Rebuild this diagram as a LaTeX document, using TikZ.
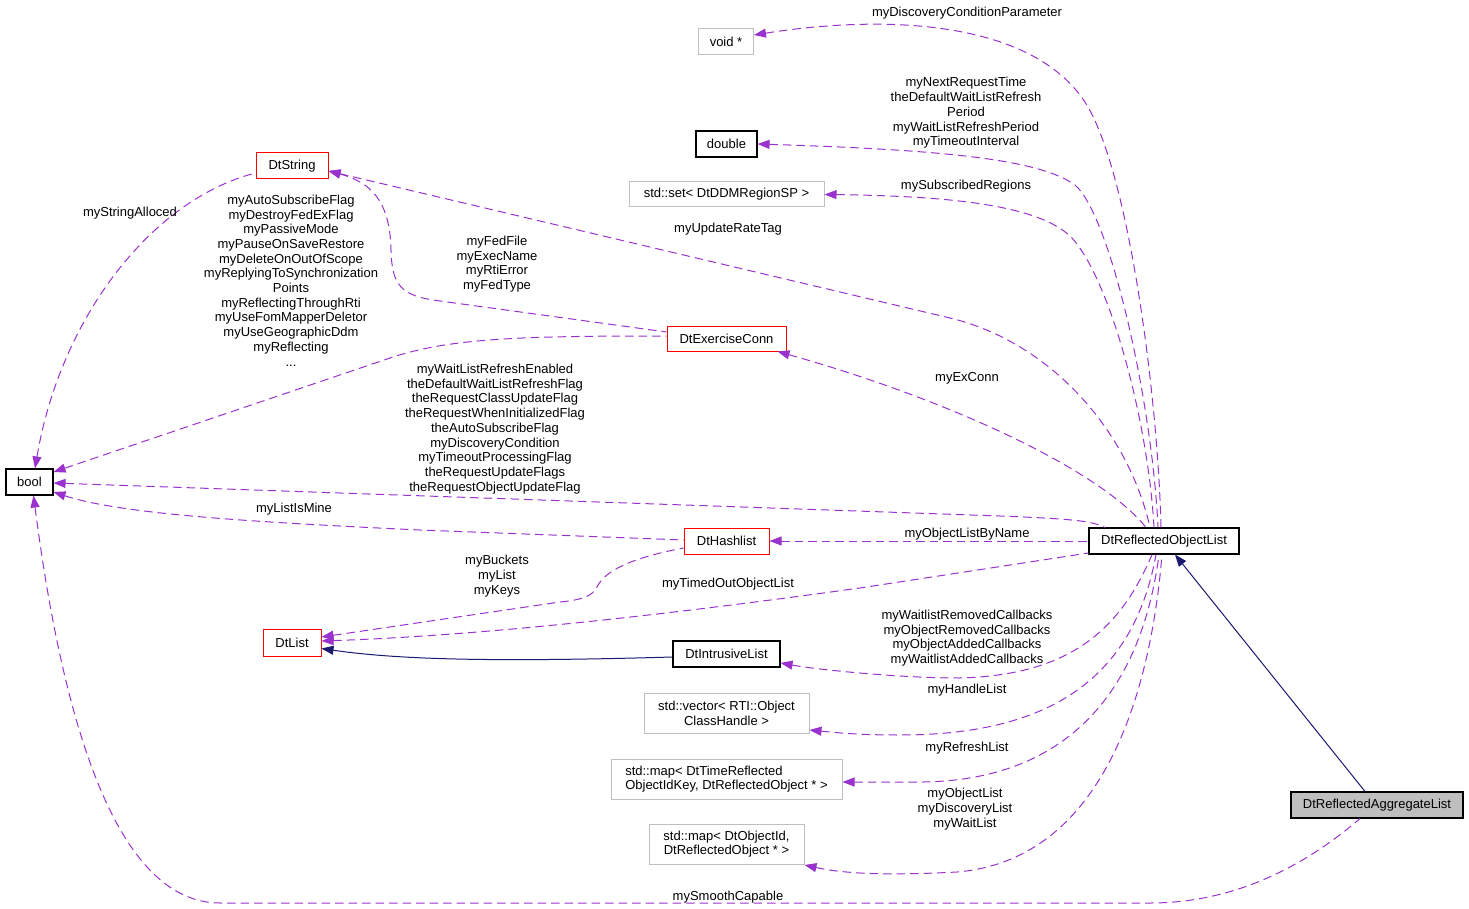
\documentclass[tikz,border=0pt]{standalone}
\usepackage{fontspec}
\setmainfont{Liberation Sans}
\usetikzlibrary{arrows.meta}
\definecolor{memc}{HTML}{9A32CD}
\definecolor{inhc}{HTML}{191970}
\definecolor{grayb}{HTML}{BFBFBF}
\begin{document}
\begin{tikzpicture}[x=1pt,y=-1pt,
  every node/.style={font=\fontsize{13}{14.7}\selectfont, inner sep=0pt, align=center},
  cls/.style={draw=black, line width=1.1pt, minimum height=26pt},
  redc/.style={draw=red, line width=1pt, minimum height=26pt},
  grc/.style={draw=grayb, line width=1pt, minimum height=26pt},
  mem/.style={draw=memc, line width=1pt, dash pattern=on 8.5pt off 5pt, arrows={Triangle[length=12pt,width=9pt,fill=memc]-}},
  inh/.style={draw=inhc, line width=1pt, arrows={Triangle[length=12pt,width=9pt,fill=inhc]-}},
  lbl/.style={yshift=-2pt}]
\useasboundingbox (0,0) rectangle (1469,909);
% nodes
\node[grc, minimum width=55pt] (voidp) at (726,42) {void *};
\node[cls, minimum width=61pt] (dbl) at (726.5,144) {double};
\node[grc, minimum width=195pt, minimum height=25pt] (stdset) at (726.5,194.5) {std::set< DtDDMRegionSP >};
\node[redc, minimum width=72pt] (dtstring) at (292,166) {DtString};
\node[redc, minimum width=119pt, minimum height=25pt] (exconn) at (726.5,338.5) {DtExerciseConn};
\node[cls, minimum width=47pt] (bool) at (29.5,482) {bool};
\node[redc, minimum width=85pt] (hashlist) at (726.5,541) {DtHashlist};
\node[cls, minimum width=150pt] (rol) at (1164,541) {DtReflectedObjectList};
\node[redc, minimum width=58pt, minimum height=27pt] (dtlist) at (292,642.5) {DtList};
\node[cls, minimum width=107pt] (intrusive) at (726.5,654) {DtIntrusiveList};
\node[grc, minimum width=165pt, minimum height=40pt] (vector) at (726.5,713) {std::vector< RTI::Object\\ClassHandle >};
\node[grc, minimum width=231pt, minimum height=40pt, align=left] (map1) at (726.5,779) {std::map< DtTimeReflected\\ObjectIdKey, DtReflectedObject * >};
\node[grc, minimum width=155pt, minimum height=40pt] (map2) at (726.5,844) {std::map< DtObjectId,\\DtReflectedObject * >};
\node[cls, fill=grayb, minimum width=172pt] (ral) at (1377,805) {DtReflectedAggregateList};
% edges
\draw[mem] ([yshift=7pt]voidp.east) .. controls (900,12) and (1040,25) .. (1088,107) .. controls (1130,180) and (1158,400) .. ([xshift=-3pt]rol.north);
\draw[mem] (dbl.east) .. controls (950,150) and (1040,160) .. (1075,185) .. controls (1110,215) and (1152,400) .. ([xshift=-6pt]rol.north);
\draw[mem] (stdset.east) .. controls (950,196) and (1040,205) .. (1072,238) .. controls (1110,280) and (1148,420) .. ([xshift=-10pt]rol.north);
\draw[mem] ([yshift=-5pt]dtstring.east) -- (950,318) .. controls (1050,342) and (1128,430) .. ([xshift=-14pt]rol.north);
\draw[mem] ([xshift=-9pt]exconn.south east) .. controls (950,400) and (1100,470) .. ([xshift=-18pt]rol.north);
\draw[mem] ([yshift=-5pt]dtstring.east) .. controls (370,182) and (390,200) .. (391,250) .. controls (392,285) and (400,296) .. (440,301) -- ([yshift=6.5pt]exconn.west);
\draw[mem] ([yshift=10pt]bool.east) -- (390,358) .. controls (450,338) and (520,336) .. ([yshift=2.5pt]exconn.west);
\draw[mem] ([xshift=5.5pt]bool.north) .. controls (60,320) and (150,200) .. ([yshift=-7pt]dtstring.west);
\draw[mem] ([yshift=-1pt]bool.east) -- (1000,516) .. controls (1075,519) and (1092,521) .. ([xshift=-59pt]rol.north);
\draw[mem] ([yshift=-10pt]bool.east) .. controls (120,514) and (250,522) .. (420,530) -- ([yshift=1pt]hashlist.west);
\draw[mem] (hashlist.east) -- (rol.west);
\draw[mem] ([yshift=5.5pt]dtlist.east) -- (560,602) .. controls (580,600) and (592,597) .. (597,587) .. controls (603,575) and (620,560) .. ([yshift=-7pt]hashlist.west);
\draw[mem] ([yshift=1.5pt]dtlist.east) .. controls (500,635) and (700,610) .. (860,588) -- ([yshift=-12pt]rol.west);
\draw[inh] ([yshift=-6pt]dtlist.east) .. controls (400,660) and (500,662) .. ([yshift=-3pt]intrusive.west);
\draw[mem] ([yshift=-9pt]intrusive.east) .. controls (820,670) and (900,678) .. (960,678) .. controls (1070,675) and (1120,630) .. ([xshift=-12pt]rol.south);
\draw[mem] ([yshift=-17pt]vector.east) .. controls (840,733) and (860,735) .. (900,735) .. controls (1060,735) and (1135,670) .. ([xshift=-8pt]rol.south);
\draw[mem] ([yshift=-3pt]map1.east) -- (923,782) .. controls (1060,780) and (1140,700) .. ([xshift=-5pt]rol.south);
\draw[mem] ([yshift=-21pt]map2.east) .. controls (850,875) and (900,875) .. (957,872) .. controls (1100,860) and (1150,700) .. ([xshift=-2pt]rol.south);
\draw[inh] ([xshift=11pt]rol.south) -- ([xshift=-12pt]ral.north);
\draw[mem] ([xshift=4pt]bool.south) .. controls (60,700) and (110,903) .. (220,903) -- (1150,903) .. controls (1230,903) and (1300,870) .. ([xshift=-17pt]ral.south);
% labels
\node[lbl] (l1) at (967,11) {myDiscoveryConditionParameter};
\node[lbl] (l2) at (966,111) {myNextRequestTime\\theDefaultWaitListRefresh\\Period\\myWaitListRefreshPeriod\\myTimeoutInterval};
\node[lbl] (l3) at (966,184) {mySubscribedRegions};
\node[lbl] (l4) at (728,227) {myUpdateRateTag};
\node[lbl] (l5) at (497,262) {myFedFile\\myExecName\\myRtiError\\myFedType};
\node[lbl] (l6) at (130,211) {myStringAlloced};
\node[lbl] (l7) at (291,278.5) {myAutoSubscribeFlag\\myDestroyFedExFlag\\myPassiveMode\\myPauseOnSaveRestore\\myDeleteOnOutOfScope\\myReplyingToSynchronization\\Points\\myReflectingThroughRti\\myUseFomMapperDeletor\\myUseGeographicDdm\\myReflecting\\...};
\node[lbl] (l8) at (967,376) {myExConn};
\node[lbl] (l9) at (495,427) {myWaitListRefreshEnabled\\theDefaultWaitListRefreshFlag\\theRequestClassUpdateFlag\\theRequestWhenInitializedFlag\\theAutoSubscribeFlag\\myDiscoveryCondition\\myTimeoutProcessingFlag\\theRequestUpdateFlags\\theRequestObjectUpdateFlag};
\node[lbl] (l10) at (294,507) {myListIsMine};
\node[lbl] (l11) at (967,532) {myObjectListByName};
\node[lbl] (l12) at (497,574) {myBuckets\\myList\\myKeys};
\node[lbl] (l13) at (728,582) {myTimedOutObjectList};
\node[lbl] (l14) at (967,636) {myWaitlistRemovedCallbacks\\myObjectRemovedCallbacks\\myObjectAddedCallbacks\\myWaitlistAddedCallbacks};
\node[lbl] (l15) at (967,688) {myHandleList};
\node[lbl] (l16) at (967,746) {myRefreshList};
\node[lbl] (l17) at (965,807) {myObjectList\\myDiscoveryList\\myWaitList};
\node[lbl] (l18) at (728,895) {mySmoothCapable};
\end{tikzpicture}
\end{document}
